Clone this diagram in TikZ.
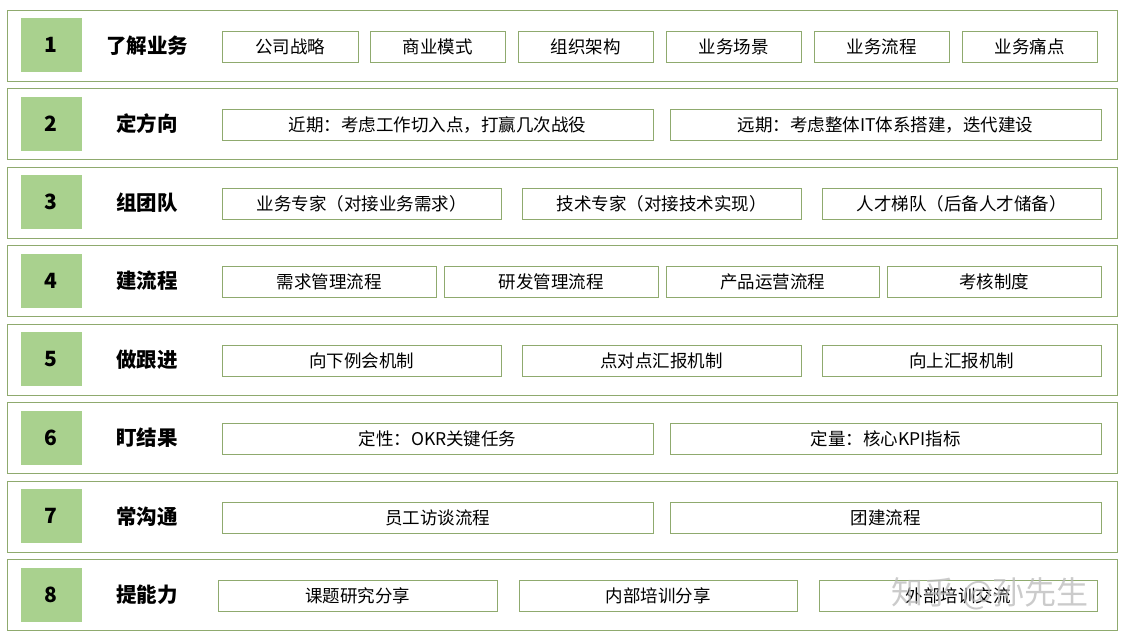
\documentclass[tikz,border=0pt]{standalone}
\usepackage{fontspec}
\setmainfont{Noto Sans CJK SC}
\usetikzlibrary{positioning}
\definecolor{frameline}{HTML}{8FAA6E}
\definecolor{numfill}{HTML}{A9D18E}

\begin{document}
\begin{tikzpicture}[
        x=1pt, y=-1pt,
        row frame/.style={
          draw=frameline, line width=1pt,
          minimum width=1110pt, minimum height=71pt, inner sep=0pt,
        },
        num box/.style={
          fill=numfill, minimum width=61pt, minimum height=54pt,
          font=\fontsize{21}{25}\selectfont\bfseries,
        },
        row label/.style={
          font=\fontsize{20.5}{24}\selectfont\bfseries,
        },
        item box/.style={
          draw=frameline, line width=0.8pt,
          minimum height=31pt, inner sep=0pt,
          font=\fontsize{17.5}{21}\selectfont,
        },
        ]
        \useasboundingbox (0,0) rectangle (1124,640);
        % the eight rows: frame, number, title
        \foreach \t [count=\i] in {了解业务, 定方向, 组团队, 建流程,
          做跟进, 盯结果, 常沟通, 提能力} {
          \pgfmathsetmacro{\yc}{45.5+(\i-1)*78.5}
          \node [row frame] (row-\i) at (562,\yc) {};
          \node [num box] (num-\i) at (51,\yc-0.5) {\i};
          \node [row label] (title-\i) at (147,\yc) {\t};
        }
        % items of each row: left/right/text
        \foreach \r/\items in {
          1/{222/358/公司战略, 370/505/商业模式, 518/653/组织架构,
             666/801/业务场景, 814/949/业务流程, 962/1097/业务痛点},
          2/{222/653/近期：考虑工作切入点，打赢几次战役,
             670/1101/远期：考虑整体IT体系搭建，迭代建设},
          3/{222/501/业务专家（对接业务需求）, 522/801/技术专家（对接技术实现）,
             822/1101/人才梯队（后备人才储备）},
          4/{222/436/需求管理流程, 444/658/研发管理流程,
             666/879/产品运营流程, 887/1101/考核制度},
          5/{222/501/向下例会机制, 522/801/点对点汇报机制,
             822/1101/向上汇报机制},
          6/{222/653/定性：OKR关键任务, 670/1101/定量：核心KPI指标},
          7/{222/653/员工访谈流程, 670/1101/团建流程},
          8/{218/497/课题研究分享, 519/797/内部培训分享,
             819/1097/外部培训交流}} {
          \foreach \l/\rr/\txt [count=\k] in \items {
            \node [item box, minimum width={(\rr-\l)*1pt}]
              (item-\r-\k) at ({(\l+\rr)/2},{45.5+(\r-1)*78.5+1}) {\txt};
          }
        }
        % watermark
        \node [font=\fontsize{32}{36}\selectfont, text=gray!55, opacity=0.75]
          (mark) at (990,594) {知乎 @孙先生};
      \end{tikzpicture}
\end{document}
